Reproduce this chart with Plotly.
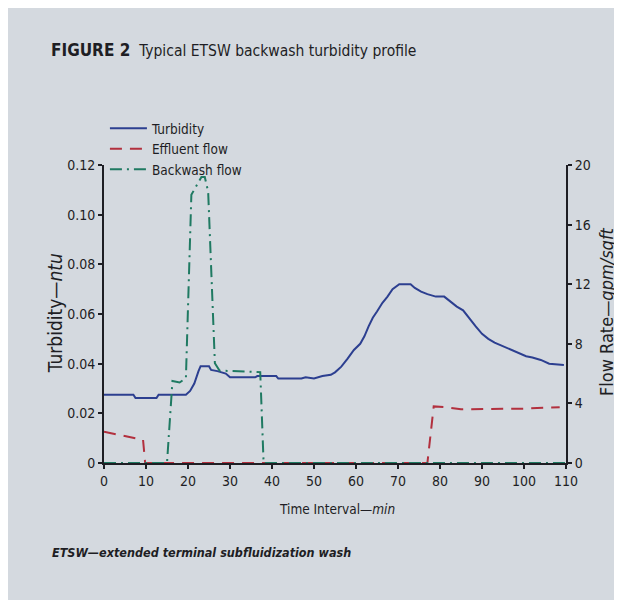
import plotly.graph_objects as go

# ---- data ----
turb_t = [0, 7, 7.5, 12.5, 13, 19.5, 20.5, 21.5, 22.5, 23, 25, 25.5, 27, 29, 30, 36, 36.5, 41, 41.5, 47, 48, 50, 52, 54,
          55, 56.5, 58, 59.5, 61, 62, 63, 64, 65, 66.3, 67.5, 68.7, 70.3, 73, 74, 75.5, 77, 79, 81, 82.5, 84, 85.5,
          87, 88.5, 90, 91.5, 93, 95, 97, 99, 100.5, 102, 104, 106, 109.5]
turb_v = [0.0275, 0.0275, 0.0262, 0.0262, 0.0275, 0.0275, 0.029, 0.032, 0.037, 0.039, 0.039, 0.0375, 0.037, 0.036,
          0.0345, 0.0345, 0.035, 0.035, 0.034, 0.034, 0.0345, 0.034, 0.035, 0.0355, 0.0365, 0.0388, 0.042, 0.0455,
          0.048, 0.051, 0.055, 0.0585, 0.061, 0.0645, 0.067, 0.070, 0.072, 0.072, 0.0705, 0.069, 0.068, 0.067, 0.067,
          0.065, 0.063, 0.0615, 0.058, 0.055, 0.052, 0.050, 0.0485, 0.047, 0.0457, 0.044, 0.043, 0.0425, 0.0415,
          0.040, 0.0395]

eff_t = [0, 9.3, 9.8, 77, 78.5, 81, 85, 95, 100, 108.5]
eff_v = [2.1, 1.55, 0, 0, 3.8, 3.75, 3.6, 3.6, 3.65, 3.75]

bw_t = [0, 15, 16.3, 18, 19.5, 20.8, 23.2, 24, 24.8, 26.4, 27.5, 37.2, 38, 110]
bw_v = [0, 0, 5.5, 5.4, 5.7, 18, 19.2, 19.2, 18.2, 6.7, 6.2, 6.1, 0, 0]

x_ticks = [0, 10, 20, 30, 40, 50, 60, 70, 80, 90, 100, 110]
y_ticks = [0, 0.02, 0.04, 0.06, 0.08, 0.10, 0.12]
y_ticktext = ["0", "0.02", "0.04", "0.06", "0.08", "0.10", "0.12"]
y2_ticks = [0, 4, 8, 12, 16, 20]

FONT = "Liberation Sans Narrow, DejaVu Sans Condensed, Arial Narrow, sans-serif"
BG = "#d4d9df"
INK = "#1e1e24"

fig = go.Figure()
fig.add_trace(go.Scatter(x=turb_t, y=turb_v, mode="lines", name="Turbidity",
                         line=dict(color="#2c3f90", width=2)))
fig.add_trace(go.Scatter(x=eff_t, y=eff_v, mode="lines", name="Effluent flow", yaxis="y2",
                         line=dict(color="#b2303e", width=2, dash="12px,8px")))
fig.add_trace(go.Scatter(x=bw_t, y=bw_v, mode="lines", name="Backwash flow", yaxis="y2",
                         line=dict(color="#1f7a62", width=2, dash="12px,5px,2px,5px")))

axis_common = dict(showgrid=False, zeroline=False, showline=True, linecolor=INK, linewidth=2,
                   ticks="outside", ticklen=4, tickwidth=2, tickcolor=INK,
                   tickfont=dict(family=FONT, size=14, color=INK))

fig.update_layout(
    width=622, height=600,
    margin=dict(l=96, r=64, t=157, b=145),
    paper_bgcolor=BG, plot_bgcolor=BG,
    font=dict(family=FONT, color=INK),
    xaxis=dict(range=[0, 110], tickvals=x_ticks, **axis_common),
    yaxis=dict(range=[0, 0.12], tickvals=y_ticks, ticktext=y_ticktext, **axis_common),
    yaxis2=dict(range=[0, 20], tickvals=y2_ticks, overlaying="y", side="right", **axis_common),
    legend=dict(x=0.002, y=1.1745, xanchor="left", yanchor="top", bgcolor="rgba(0,0,0,0)",
                font=dict(family=FONT, size=13.5, color=INK), tracegroupgap=0, itemwidth=37),
    showlegend=True,
)

fig.add_annotation(text="<b><span style='font-size:17px'>FIGURE 2</span></b>  Typical ETSW backwash turbidity profile",
                   xref="paper", yref="paper", x=-0.119, y=1.386, xanchor="left", yanchor="middle",
                   showarrow=False, font=dict(family=FONT, size=15.5, color=INK))
fig.add_annotation(text="Turbidity—<i>ntu</i>", xref="paper", yref="paper", x=-0.106, y=0.503,
                   textangle=-90, showarrow=False, xanchor="center", yanchor="middle",
                   font=dict(family=FONT, size=19, color=INK))
fig.add_annotation(text="Flow Rate—<i>gpm/sqft</i>", xref="paper", yref="paper", x=1.089, y=0.507,
                   textangle=-90, showarrow=False, xanchor="center", yanchor="middle",
                   font=dict(family=FONT, size=18, color=INK))
fig.add_annotation(text="Time Interval—<i>min</i>", xref="paper", yref="paper", x=0.504, y=-0.154,
                   showarrow=False, xanchor="center", yanchor="middle",
                   font=dict(family=FONT, size=13.5, color=INK))
fig.add_annotation(text="<b><i>ETSW—extended terminal subfluidization wash</i></b>", xref="paper", yref="paper",
                   x=-0.117, y=-0.299, xanchor="left", yanchor="middle", showarrow=False,
                   font=dict(family=FONT, size=12.5, color=INK))

fig.write_html("out.html")
